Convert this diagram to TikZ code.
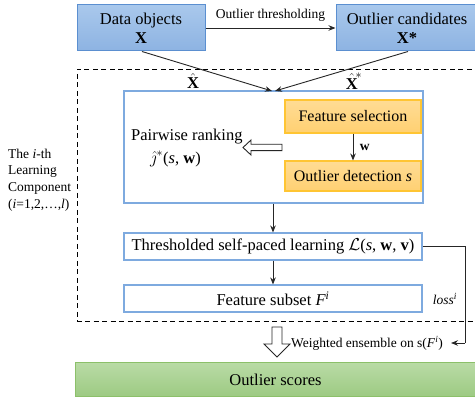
\documentclass[tikz,border=0pt]{standalone}
\usepackage{amsmath}
\usepackage{fontspec}
\setmainfont{Liberation Serif}
\usetikzlibrary{arrows.meta,positioning}
\definecolor{bluefillA}{HTML}{A9C8EC}
\definecolor{bluefillB}{HTML}{8DB3E2}
\definecolor{blueedge}{HTML}{5B8FD0}
\definecolor{inneredge}{HTML}{7EAADF}
\definecolor{orafillA}{HTML}{FFDC94}
\definecolor{orafillB}{HTML}{FFD072}
\definecolor{oraedge}{HTML}{FFC533}
\definecolor{grnfillA}{HTML}{B9DBA5}
\definecolor{grnfillB}{HTML}{9CCA82}
\definecolor{grnedge}{HTML}{8CC06A}
\definecolor{linec}{HTML}{262626}
\tikzset{
  bigfont/.style={font=\fontsize{16.5}{20}\selectfont},
  smallfont/.style={font=\fontsize{13.5}{16.7}\selectfont},
  bluebox/.style={draw=blueedge, line width=1pt, top color=bluefillA, bottom color=bluefillB, inner sep=0pt, align=center, bigfont},
  whitebox/.style={draw=inneredge, line width=1.1pt, fill=white, inner sep=0pt, align=center, bigfont},
  orabox/.style={draw=oraedge, line width=1.1pt, top color=orafillA, bottom color=orafillB, inner sep=0pt, align=center, font=\fontsize{16}{19}\selectfont},
  grnbox/.style={draw=grnedge, line width=1pt, top color=grnfillA, bottom color=grnfillB, inner sep=0pt, align=center, bigfont},
  conn/.style={draw=linec, line width=0.9pt, -{Stealth[length=7pt,width=5.5pt]}},
  plainline/.style={draw=linec, line width=0.9pt},
  hollow/.style={draw=linec, line width=0.9pt, fill=white, line join=miter},
}
\begin{document}
\begin{tikzpicture}[x=1pt,y=-1pt]
\useasboundingbox[fill=white] (0,0) rectangle (475,401);

% dashed learning component frame
\draw[dashed, line width=0.9pt, dash pattern=on 5pt off 3.5pt] (480,69) -- (77,69) -- (77,321) -- (480,321);

% top boxes
\node[bluebox, minimum width=128pt, minimum height=46pt] (data) at (141,28) {Data objects\\[-1pt]\textbf{X}};
\node[bluebox, minimum width=142pt, minimum height=46pt] (cand) at (407,28) {Outlier candidates\\[-1pt]\textbf{X*}};
\draw[conn] (data.east) -- node[above=3pt, smallfont] {Outlier thresholding} (cand.west);

% inner box
\node[whitebox, minimum width=299pt, minimum height=112pt] (inner) at (273.5,147) {};
\coordinate (inA) at (272,91);
\coordinate (inB) at (275,91);
\draw[conn] ([xshift=1pt]data.south) -- (inA);
\draw[conn] ([xshift=1pt]cand.south) -- (inB);
\node[bigfont, inner sep=1pt] (xh) at (193,81) {$\hat{\textbf{X}}$};
\node[bigfont, inner sep=1pt] (xhs) at (354,81) {$\hat{\textbf{X}}^{\!*}$};

\node[orabox, minimum width=136pt, minimum height=33pt] (fsel) at (353,116.5) {Feature selection};
\node[orabox, minimum width=136pt, minimum height=30pt] (odet) at (353,176) {Outlier detection \textit{s}};
\draw[conn] (fsel.south) -- node[right=3pt, smallfont] {\textbf{w}} (odet.north);

\node[bigfont, anchor=west, inner sep=0pt] (pr) at (131,137) {Pairwise ranking};
\node[bigfont, anchor=west, inner sep=0pt] (jh) at (150,159) {$\hat{\jmath}^{*}$(\textit{s}, \textbf{w})};

% hollow left arrow
\coordinate (hl1) at (282,144.3);
\draw[hollow] (hl1) -- (251,144.3) -- (251,140) -- (243,147.5) -- (251,155) -- (251,150.7) -- (282,150.7) -- cycle;

% lower boxes
\node[whitebox, minimum width=298pt, minimum height=27pt] (tspl) at (273,246.5) {Thresholded self-paced learning $\mathcal{L}$(\textit{s}, \textbf{w}, \textbf{v})};
\node[whitebox, minimum width=298pt, minimum height=27pt] (fsub) at (273,298.5) {Feature subset \textit{F}\textsuperscript{\textit{i}}};
\draw[conn] (inner.south -| tspl.north) -- (tspl.north);
\draw[conn] (tspl.south) -- (fsub.north);

% loss path
\coordinate (lc1) at (465,246.5);
\coordinate (lc2) at (465,343);
\coordinate (lend) at (451,343);
\draw[plainline] (tspl.east) -- (lc1) -- (lc2);
\draw[conn] (lc2) -- (lend);
\node[smallfont] (loss) at (445,299) {\textit{loss}\textsuperscript{\textit{i}}};

% left label
\node[smallfont, anchor=west, align=left, inner sep=0pt] (lbl) at (8,180) {The \textit{i}-th\\Learning\\Component\\(\textit{i}=1,2,\ldots,\textit{l})};

% hollow down arrow
\coordinate (hd1) at (272,327);
\draw[hollow] (hd1) -- (282,327) -- (282,344) -- (290,344) -- (277,357) -- (264,344) -- (272,344) -- cycle;
\node[smallfont, anchor=west, inner sep=0pt] (went) at (291,343) {Weighted ensemble on s(\textit{F}\textsuperscript{\textit{i}})};

% outlier scores
\node[grnbox, minimum width=401pt, minimum height=34pt] (scores) at (275.5,380) {Outlier scores};
\end{tikzpicture}
\end{document}
